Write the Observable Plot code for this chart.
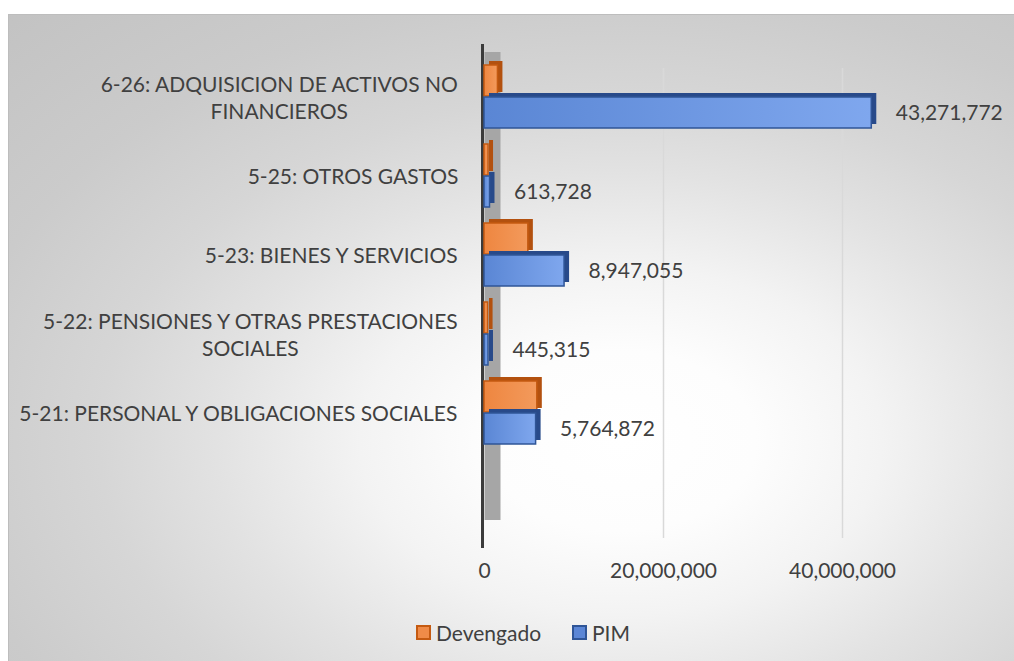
<!DOCTYPE html>
<html>
<head>
<meta charset="utf-8">
<script src="https://cdn.jsdelivr.net/npm/d3@7"></script>
<script src="https://cdn.jsdelivr.net/npm/@observablehq/plot@0.6"></script>
<style>
  html, body { margin: 0; padding: 0; background: #ffffff; width: 1014px; height: 661px; overflow: hidden; }
  #box {
    position: absolute; left: 8px; top: 14px; width: 1020px; height: 660px;
    border: 1px solid #bdbdbd; box-sizing: border-box;
    background: radial-gradient(900px 600px at 612px 426px, #ffffff 0%, #fdfdfd 15%, #f3f3f3 29%, #e2e2e2 45%, #d6d6d6 58%, #cbcbcb 75%, #c2c2c2 100%);
  }
  #chart { position: absolute; left: 0; top: 0; }
  #legend { position: absolute; left: 0; top: 619px; width: 1014px; font-family: Lato, "Open Sans", sans-serif; font-size: 21px; color: #404040; }
  .item { position: absolute; top: 0; display: flex; align-items: center; height: 26px; }
  .sw { width: 11px; height: 11px; border: 2px solid; margin-right: 5px; }
</style>
</head>
<body>
<div id="box"></div>
<div id="chart"></div>
<div id="legend">
  <div class="item" style="left:416px"><span class="sw" style="background:#f08b48;border-color:#c55a11"></span>Devengado</div>
  <div class="item" style="left:572px"><span class="sw" style="background:#5b86d6;border-color:#2f5597"></span>PIM</div>
</div>
<script>
const categories = [
  "6-26: ADQUISICION DE ACTIVOS NO FINANCIEROS",
  "5-25: OTROS GASTOS",
  "5-23: BIENES Y SERVICIOS",
  "5-22: PENSIONES Y OTRAS PRESTACIONES SOCIALES",
  "5-21: PERSONAL Y OBLIGACIONES SOCIALES"
];
const categoryLines = [
  ["6-26: ADQUISICION DE ACTIVOS NO", "FINANCIEROS"],
  ["5-25: OTROS GASTOS"],
  ["5-23: BIENES Y SERVICIOS"],
  ["5-22: PENSIONES Y OTRAS PRESTACIONES", "SOCIALES"],
  ["5-21: PERSONAL Y OBLIGACIONES SOCIALES"]
];
const devengado = [1500000, 450000, 4900000, 400000, 5900000];
const pim = [43271772, 613728, 8947055, 445315, 5764872];
const xTicks = [0, 20000000, 40000000];

const rows = categories.map((c, i) => ({cat: c, dev: devengado[i], pim: pim[i]}));
const fmt = d3.format(",");
const FONT = "Lato, 'Open Sans', sans-serif";
const FS = 21;

const ctx = document.createElement("canvas").getContext("2d");
ctx.font = `${FS}px Lato`;

const W = 1014, H = 600, ML = 484;
const labelRight = 458;

const labelMarks = categories.map((c, i) => {
  const lines = categoryLines[i];
  const w = Math.max(...lines.map(l => ctx.measureText(l).width));
  return Plot.text([c], {
    y: d => d, text: () => lines.join("\n"), frameAnchor: "left",
    textAnchor: "middle", lineAnchor: "middle", lineHeight: 1.25,
    dx: labelRight - w / 2 - ML, fill: "#404040", fontSize: FS
  });
});

const chart = Plot.plot({
  width: W, height: H,
  marginLeft: ML, marginTop: 44, marginBottom: 52, marginRight: 20,
  style: {background: "transparent", fontFamily: FONT, fontSize: FS + "px", color: "#595959"},
  x: {domain: [0, 50000000], range: [ML, ML + 447.5], axis: null},
  y: {domain: categories, range: [65, 445], paddingInner: 0.2, paddingOuter: 0, axis: null},
  marks: [
    Plot.ruleX(xTicks.slice(1), {x: d => d, stroke: "#d9d9d9", strokeWidth: 1.5, insetTop: 24, insetBottom: 10}),
    Plot.ruleX([0], {x: d => d, stroke: "#a6a6a6", strokeWidth: 16, dx: 8, insetTop: 8, insetBottom: 28}),
    Plot.ruleX([0], {x: d => d, stroke: "#3b3b3b", strokeWidth: 3, dx: -2}),
    Plot.barX(rows, {y: "cat", x: "dev", insetBottom: 32, fill: "#b3510f", dx: 5, dy: -4}),
    Plot.barX(rows, {y: "cat", x: "dev", insetBottom: 32, fill: "url(#gOrange)", stroke: "#c55a11", strokeWidth: 1.5}),
    Plot.barX(rows, {y: "cat", x: "pim", insetTop: 32, fill: "#284a8a", dx: 5, dy: -4}),
    Plot.barX(rows, {y: "cat", x: "pim", insetTop: 32, fill: "url(#gBlue)", stroke: "#2f5597", strokeWidth: 1.5}),
    Plot.text(rows, {y: "cat", x: "pim", text: d => fmt(d.pim), textAnchor: "start", dx: 24, dy: 16, fill: "#404040", fontSize: FS}),
    ...labelMarks,
    Plot.axisX({ticks: xTicks, tickFormat: fmt, tickSize: 0, tickPadding: 15, fontSize: FS, fill: "#404040"})
  ]
});

const defs = d3.select(chart).insert("defs", ":first-child");
const gb = defs.append("linearGradient").attr("id", "gBlue").attr("x1", "0").attr("x2", "1").attr("y1", "0").attr("y2", "0");
gb.append("stop").attr("offset", "0%").attr("stop-color", "#5a86d4");
gb.append("stop").attr("offset", "100%").attr("stop-color", "#7fa7ee");
const go = defs.append("linearGradient").attr("id", "gOrange").attr("x1", "0").attr("x2", "1").attr("y1", "0").attr("y2", "0");
go.append("stop").attr("offset", "0%").attr("stop-color", "#ee8640");
go.append("stop").attr("offset", "100%").attr("stop-color", "#f39a5c");

document.getElementById("chart").appendChild(chart);
</script>
</body>
</html>
